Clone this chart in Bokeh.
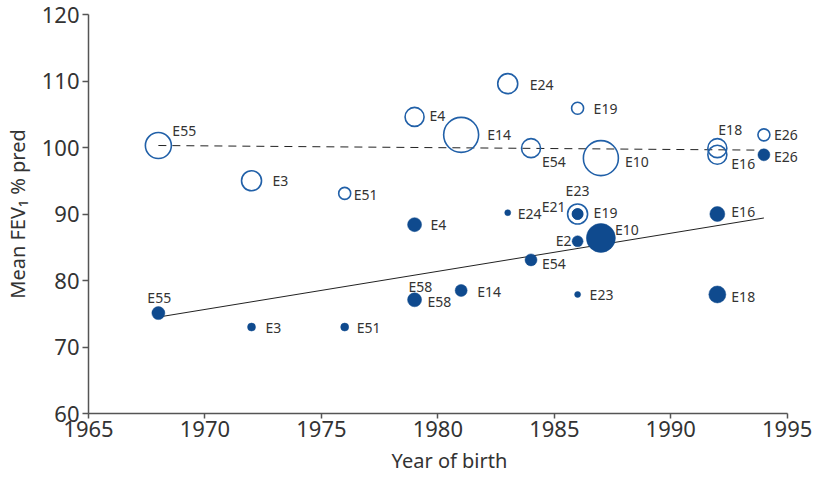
from bokeh.plotting import figure
from bokeh.models import ColumnDataSource, Range1d, FixedTicker
from bokeh.core.properties import value
from bokeh.embed import file_html
from bokeh.resources import INLINE

# ---- data ----
open_ids = ["E55", "E3", "E51", "E4", "E14", "E24", "E19", "E54", "E10", "E18", "E16", "E26", "E23"]
open_year = [1968, 1972, 1976, 1979, 1981, 1983, 1986, 1984, 1987, 1992, 1992, 1994, 1986]
open_fev = [100.3, 95.0, 93.1, 104.6, 101.9, 109.6, 105.9, 99.9, 98.4, 99.9, 98.9, 101.9, 90.0]

filled_ids = ["E55", "E3", "E51", "E4", "E24", "E19", "E21", "E2", "E10", "E54", "E58", "E14", "E23", "E18", "E16", "E26"]
filled_year = [1968, 1972, 1976, 1979, 1983, 1986, 1986, 1986, 1987, 1984, 1979, 1981, 1986, 1992, 1992, 1994]
filled_fev = [75.1, 73.0, 73.0, 88.4, 90.2, 90.0, 90.0, 85.9, 86.4, 83.1, 77.1, 78.5, 77.9, 77.9, 90.0, 98.9]

trend_year = [1968, 1994]
trend_open = [100.3, 99.6]
trend_filled = [74.5, 89.4]

x_ticks = [1965, 1970, 1975, 1980, 1985, 1990, 1995]
y_ticks = [60, 70, 80, 90, 100, 110, 120]
x_title = "Year of birth"
y_title = "Mean FEV\u2081 % pred"

# ---- styles (marker diameters and label offsets, px) ----
open_size = [26, 20, 12, 19, 35, 20, 12, 19, 35, 19, 19, 12, 20]
filled_size = [13, 8, 8, 14, 6, 11, 11, 11, 29, 12, 14, 12, 6, 17, 15, 12]

open_lab = [(14, -15, "left"), (21, 0, "left"), (9, 1, "left"), (15, -1, "left"),
            (26, 0, "left"), (22, 1, "left"), (16, 0, "left"), (11, 13, "left"),
            (24, 3, "left"), (1, -19, "left"), (14, 9, "left"), (10, 0, "left"),
            (-12, -24, "left")]
filled_lab = [(-11, -16, "left"), (14, 0, "left"), (12, 0, "left"), (16, 0, "left"),
              (10, 1, "left"), (16, -2, "left"), (-12, -8, "right"), (-6, -1, "right"),
              (14, -8, "left"), (11, 4, "left"), (-6, -13, "left"), (16, 1, "left"),
              (12, 0, "left"), (14, 2, "left"), (14, -3, "left"), (10, 2, "left")]
extra_lab = [("E58", (13, 2, "left"))]

OPEN_C = "#2160a8"
FILL_C = "#0f4a8e"
TEXT_C = "#333333"
AXIS_C = "#555555"
FONT = "Noto Sans"

p = figure(width=822, height=476, output_backend="svg", toolbar_location=None,
           x_range=Range1d(1965, 1996), y_range=Range1d(60, 120),
           min_border_left=84, min_border_right=12, min_border_top=14, min_border_bottom=0)
p.outline_line_color = None
p.grid.visible = False
p.background_fill_color = "white"

# trend lines
p.line(trend_year, trend_open, line_color="#222222", line_width=1, line_dash="8 6")
p.line(trend_year, trend_filled, line_color="#222222", line_width=1)

# points
p.scatter(x=open_year, y=open_fev, size=open_size, marker="circle",
          fill_color=None, line_color=OPEN_C, line_width=1.6)
p.scatter(x=filled_year, y=filled_fev, size=filled_size, marker="circle",
          fill_color=FILL_C, line_color=FILL_C, line_width=0.5)

# labels
lx, ly, lt, ldx, ldy, lal = [], [], [], [], [], []
for i, name in enumerate(open_ids):
    dx, dy, al = open_lab[i]
    lx.append(open_year[i]); ly.append(open_fev[i]); lt.append(name)
    ldx.append(dx); ldy.append(dy); lal.append(al)
for i, name in enumerate(filled_ids):
    dx, dy, al = filled_lab[i]
    lx.append(filled_year[i]); ly.append(filled_fev[i]); lt.append(name)
    ldx.append(dx); ldy.append(dy); lal.append(al)
for name, (dx, dy, al) in extra_lab:
    i = filled_ids.index(name)
    lx.append(filled_year[i]); ly.append(filled_fev[i]); lt.append(name)
    ldx.append(dx); ldy.append(dy); lal.append(al)

src = ColumnDataSource(dict(x=lx, y=ly, t=lt, dx=ldx, dy=ldy, al=lal))
p.text(x="x", y="y", text="t", x_offset="dx", y_offset="dy", text_align="al",
       source=src, text_baseline="middle", text_font=value(FONT),
       text_font_size="14px", text_color=TEXT_C)

# axes
for ax in (p.xaxis[0], p.yaxis[0]):
    ax.axis_line_color = AXIS_C
    ax.axis_line_width = 1.5
    ax.major_tick_line_color = AXIS_C
    ax.major_tick_line_width = 1.5
    ax.major_tick_out = 6
    ax.major_tick_in = 0
    ax.minor_tick_line_color = None
    ax.major_label_text_font = FONT
    ax.major_label_text_font_size = "22px"
    ax.major_label_text_color = TEXT_C
    ax.axis_label_text_font = FONT
    ax.axis_label_text_font_size = "20px"
    ax.axis_label_text_font_style = "normal"
    ax.axis_label_text_color = TEXT_C

p.xaxis.bounds = (1965, 1995)
p.xaxis.ticker = FixedTicker(ticks=x_ticks)
p.yaxis.ticker = FixedTicker(ticks=y_ticks)
p.xaxis.axis_label = x_title
p.yaxis.axis_label = y_title
p.xaxis.major_tick_out = 5
p.xaxis.major_label_standoff = 2
p.yaxis.major_label_standoff = 3
p.xaxis.axis_label_standoff = 7
p.yaxis.axis_label_standoff = 8

open("out.html", "w").write(file_html(p, INLINE))
